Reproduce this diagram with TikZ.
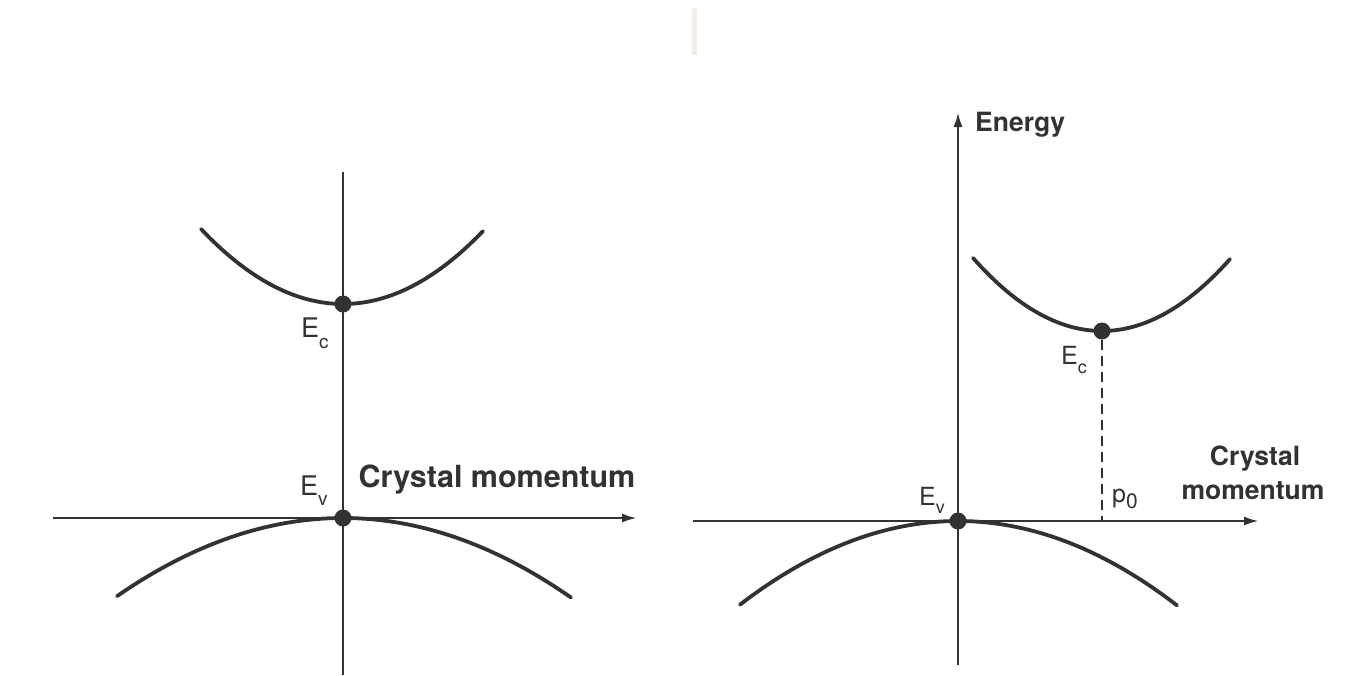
\documentclass[tikz,border=0pt]{standalone}
\usepackage{fontspec}
\setmainfont{TeX Gyre Heros}
\usetikzlibrary{arrows.meta}
\definecolor{ink}{RGB}{50,50,50}
\definecolor{scan}{RGB}{241,236,230}
\newcommand{\lowsub}[3]{\raisebox{-#1}{\fontsize{#2}{#2}\selectfont #3}}
\begin{document}
\begin{tikzpicture}[x=1pt,y=-1pt,
  axisline/.style={draw=ink, line width=2.5pt},
  arr/.style={-{Latex[length=15pt,width=9pt]}},
  band/.style={draw=ink, line width=3.8pt, line cap=round},
  dot/.style={circle, fill=ink, inner sep=0pt, minimum size=17pt},
  dashline/.style={draw=ink, line width=1.8pt, dash pattern=on 10pt off 6pt},
  labL/.style={font=\fontsize{27}{27}\selectfont, text=ink, inner sep=0pt},
  labR/.style={font=\fontsize{25}{25}\selectfont, text=ink, inner sep=0pt},
  bigL/.style={font=\fontsize{30.5}{34}\selectfont\bfseries, text=ink, inner sep=0pt},
  bigR/.style={font=\fontsize{26.5}{30}\selectfont\bfseries, text=ink, inner sep=0pt}]
\useasboundingbox (0,0) rectangle (1367,675);
\fill[white] (0,0) rectangle (1367,675);
\fill[scan] (692,8) rectangle (697,55);

% ---------------- left panel ----------------
\coordinate (ltop) at (343,172);
\coordinate (lbot) at (343,675);
\coordinate (lleft) at (53,518);
\coordinate (lright) at (637,518);
\draw[axisline] (ltop) -- (lbot);
\draw[axisline, arr] (lleft) -- (lright);
\draw[band] plot[domain=-14.2:14.0, samples=60] ({343+10*\x},{304-0.372*\x*\x});
\draw[band] plot[domain=-22.6:22.8, samples=80] ({343+10*\x},{518+0.153*\x*\x});
\node[dot] (ecL) at (343,304) {};
\node[dot] (evL) at (343,518) {};
\node[labL, anchor=base west] (ecLlab) at (301,337) {E\lowsub{11pt}{19}{c}};
\node[labL, anchor=base west] (evLlab) at (300,495) {E\lowsub{10pt}{19}{v}};
\node[bigL, anchor=base] (cmL) at (497,487) {Crystal momentum};

% ---------------- right panel ----------------
\coordinate (rbot) at (958,665);
\coordinate (rtop) at (958,112);
\coordinate (rleft) at (693,521);
\coordinate (rright) at (1259,521);
\coordinate (pfoot) at (1102,521);
\draw[axisline, arr] (rbot) -- (rtop);
\draw[axisline, arr] (rleft) -- (rright);
\draw[band] plot[domain=-12.9:12.8, samples=60] ({1102+10*\x},{331-0.439*\x*\x});
\draw[band] plot[domain=-21.8:21.9, samples=80] ({958+10*\x},{521+0.176*\x*\x});
\node[dot] (ecR) at (1102,331) {};
\node[dot] (evR) at (958,521) {};
\draw[dashline] (ecR) -- (pfoot);
\node[labR, anchor=base west] (ecRlab) at (1061,364) {E\lowsub{9pt}{18}{c}};
\node[labR, anchor=base west] (evRlab) at (919,505) {E\lowsub{8pt}{18}{v}};
\node[labR, anchor=base west] (p0lab) at (1112,502) {p\lowsub{6pt}{21}{0}};
\node[bigR, anchor=base west] (energy) at (975,131) {Energy};
\node[bigR, anchor=base] (crys) at (1255,465) {Crystal};
\node[bigR, anchor=base] (mom) at (1253,499) {momentum};
\end{tikzpicture}
\end{document}
